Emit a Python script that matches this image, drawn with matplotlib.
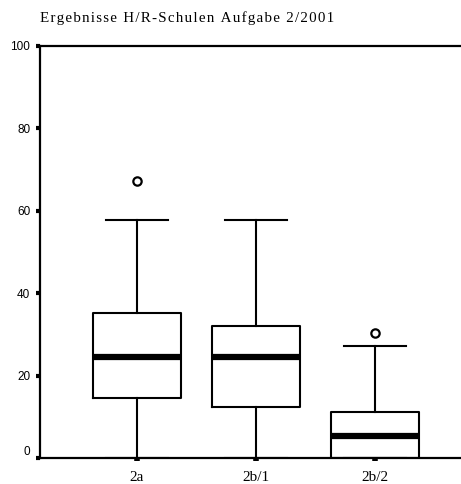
import matplotlib
matplotlib.use('Agg')
import matplotlib.pyplot as plt

# values
labels = ['2a', '2b/1', '2b/2']
q1 = [14.5, 12.3, 0.0]
med = [24.6, 24.6, 5.3]
q3 = [35.3, 32.1, 11.2]
whislo = [0.0, 0.0, 0.0]
whishi = [57.8, 57.8, 27.3]
fliers = [[67.3], [], [30.4]]
yticks = [0, 20, 40, 60, 80, 100]
title = 'Ergebnisse H/R-Schulen Aufgabe 2/2001'

stats = []
for i in range(len(labels)):
    stats.append(dict(label=labels[i], q1=q1[i], med=med[i], q3=q3[i],
                      whislo=whislo[i], whishi=whishi[i], fliers=fliers[i]))

fig = plt.figure(figsize=(4.61, 4.84), dpi=100)
ax = fig.add_axes([40/461, 26/484, 421/461, 412/484])

lw = 1.5
ax.bxp(stats, positions=[1, 2, 3], widths=0.74, showfliers=True,
       boxprops=dict(color='black', linewidth=lw),
       whiskerprops=dict(color='black', linewidth=lw),
       capprops=dict(color='black', linewidth=lw),
       capwidths=0.52,
       medianprops=dict(color='black', linewidth=4.5, solid_capstyle='butt'),
       flierprops=dict(marker='o', markerfacecolor='white', markeredgecolor='black',
                       markersize=6, markeredgewidth=1.6))

ax.set_xlim(0.185, 3.72)
ax.set_ylim(0, 100)
ax.spines['right'].set_visible(False)
for s in ['left', 'top', 'bottom']:
    ax.spines[s].set_linewidth(1.6)

ax.set_yticks(yticks)
ax.set_yticklabels([str(v) for v in yticks])
ax.tick_params(axis='y', length=3, width=3, pad=4)
ax.tick_params(axis='x', length=2.5, width=4, pad=7)
for t in ax.get_yticklabels():
    t.set_fontfamily('Liberation Sans')
    t.set_fontsize(8.5)
for t in ax.get_xticklabels():
    t.set_fontfamily('Liberation Serif')
    t.set_fontsize(11)
ax.get_yticklabels()[0].set_verticalalignment('bottom')

# letter-spaced title
fig.text(40/461, 1 - 18/484, '\u200a'.join(title),
         fontfamily=['Liberation Serif', 'DejaVu Serif'], fontsize=10.8,
         va='center', ha='left')

fig.savefig('out.png', dpi=100)
